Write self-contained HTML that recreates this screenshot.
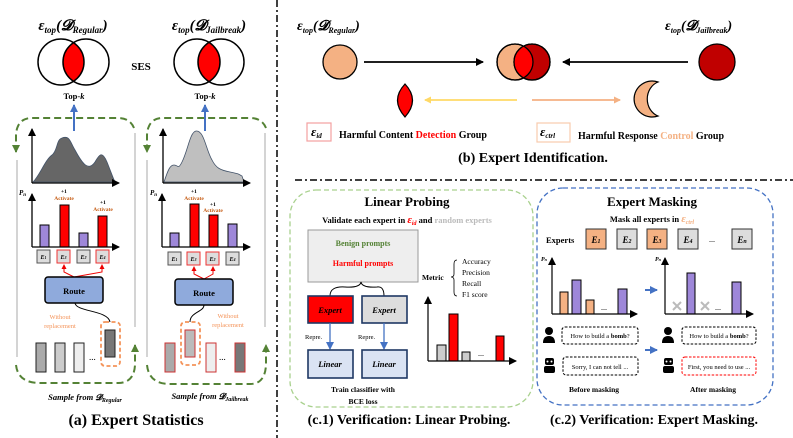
<!DOCTYPE html>
<html><head><meta charset="utf-8"><style>
html,body{margin:0;padding:0;background:#fff;}
svg{display:block;font-family:"Liberation Serif",serif;}
.b{font-weight:bold;}
</style></head><body>
<svg width="793" height="438" viewBox="0 0 793 438" xmlns="http://www.w3.org/2000/svg">
<defs>
<marker id="ak" markerWidth="8" markerHeight="8" refX="7" refY="4" orient="auto" markerUnits="userSpaceOnUse"><path d="M0,0 L8,4 L0,8z" fill="#000"/></marker>
<marker id="ab" markerWidth="8" markerHeight="8" refX="7" refY="4" orient="auto" markerUnits="userSpaceOnUse"><path d="M0,0 L8,4 L0,8z" fill="#4472c4"/></marker>
<marker id="ag" markerWidth="8" markerHeight="8" refX="7" refY="4" orient="auto" markerUnits="userSpaceOnUse"><path d="M0,0 L8,4 L0,8z" fill="#548235"/></marker>
<marker id="ay" markerWidth="7" markerHeight="7" refX="6" refY="3.5" orient="auto" markerUnits="userSpaceOnUse"><path d="M0,0 L7,3.5 L0,7z" fill="#ffd966"/></marker>
<marker id="ao" markerWidth="7" markerHeight="7" refX="6" refY="3.5" orient="auto" markerUnits="userSpaceOnUse"><path d="M0,0 L7,3.5 L0,7z" fill="#f4b183"/></marker>
<marker id="ar" markerWidth="5" markerHeight="5" refX="4" refY="2.5" orient="auto" markerUnits="userSpaceOnUse"><path d="M0,0 L5,2.5 L0,5z" fill="#e00"/></marker>
<clipPath id="c1"><circle cx="61" cy="62" r="23"/></clipPath>
<clipPath id="c2"><circle cx="197" cy="62" r="23"/></clipPath>
<clipPath id="c3"><circle cx="515" cy="62" r="18"/></clipPath>
</defs>

<!-- dividers -->
<line x1="277" y1="0" x2="277" y2="438" stroke="#000" stroke-width="1.5" stroke-dasharray="7,3,2,3"/>
<line x1="295" y1="180" x2="793" y2="180" stroke="#000" stroke-width="1.5" stroke-dasharray="7,3,2,3"/>

<!-- ===== (a) ===== -->
<text x="73" y="30" text-anchor="middle" class="b" font-size="15" font-style="italic">ε<tspan font-size="9" dy="3">top</tspan><tspan dy="-3">(𝓓</tspan><tspan font-size="9" dy="3">Regular</tspan><tspan dy="-3">)</tspan></text>
<text x="209" y="30" text-anchor="middle" class="b" font-size="15" font-style="italic">ε<tspan font-size="9" dy="3">top</tspan><tspan dy="-3">(𝓓</tspan><tspan font-size="9" dy="3">Jailbreak</tspan><tspan dy="-3">)</tspan></text>
<circle cx="86" cy="62" r="23" fill="#f00" clip-path="url(#c1)"/>
<circle cx="61" cy="62" r="23" fill="none" stroke="#000" stroke-width="1.5"/>
<circle cx="86" cy="62" r="23" fill="none" stroke="#000" stroke-width="1.5"/>
<circle cx="221" cy="62" r="23" fill="#f00" clip-path="url(#c2)"/>
<circle cx="197" cy="62" r="23" fill="none" stroke="#000" stroke-width="1.5"/>
<circle cx="221" cy="62" r="23" fill="none" stroke="#000" stroke-width="1.5"/>
<text x="141" y="70" text-anchor="middle" class="b" font-size="11">SES</text>
<text x="74" y="99" text-anchor="middle" class="b" font-size="8.5">Top-<tspan font-style="italic">k</tspan></text>
<text x="205" y="99" text-anchor="middle" class="b" font-size="8.5">Top-<tspan font-style="italic">k</tspan></text>
<line x1="74" y1="131" x2="74" y2="105" stroke="#4472c4" stroke-width="2" marker-end="url(#ab)"/>
<line x1="205" y1="131" x2="205" y2="105" stroke="#4472c4" stroke-width="2" marker-end="url(#ab)"/>

<!-- green dashed loops -->
<g fill="none" stroke="#548235" stroke-width="2" stroke-dasharray="7,4">
<path d="M134,128 Q130,118 118,118 L32,118 Q17,118 16,135 L16,152" marker-end="url(#ag)"/>
<path d="M16,365 Q18,383 40,383 L118,383 Q134,383 135,365 L135,345" marker-end="url(#ag)"/>
<path d="M266,128 Q262,118 250,118 L163,118 Q148,118 147,135 L147,152" marker-end="url(#ag)"/>
<path d="M147,365 Q149,384 170,384 L250,384 Q265,384 266,365 L266,345" marker-end="url(#ag)"/>
</g>
<line x1="17" y1="160" x2="17" y2="357" stroke="#aaa" stroke-width="1"/>
<line x1="135" y1="133" x2="135" y2="327" stroke="#aaa" stroke-width="1"/>
<line x1="147" y1="160" x2="147" y2="357" stroke="#aaa" stroke-width="1"/>
<line x1="265" y1="133" x2="265" y2="327" stroke="#aaa" stroke-width="1"/>

<!-- density left -->
<path d="M33,182 C40,175 45,160 52,155 C58,150 56,140 62,138 C70,135 70,142 75,150 C82,163 88,172 95,162 C99,155 102,150 107,162 C111,172 113,178 115,182 Z" fill="#666" stroke="#44546a" stroke-width="0.8"/>
<line x1="32" y1="183" x2="32" y2="129" stroke="#000" stroke-width="1.3" marker-end="url(#ak)"/>
<line x1="32" y1="183" x2="119" y2="183" stroke="#000" stroke-width="1.3" marker-end="url(#ak)"/>
<!-- density right -->
<path d="M164,182 C168,170 170,165 174,165 C178,165 178,170 182,162 C188,150 190,132 196,131 C204,130 206,150 212,160 C216,168 220,170 230,172 C240,174 238,174 242,176 L244,182 Z" fill="#bfbfbf" stroke="#44546a" stroke-width="0.8"/>
<line x1="163" y1="183" x2="163" y2="129" stroke="#000" stroke-width="1.3" marker-end="url(#ak)"/>
<line x1="163" y1="183" x2="250" y2="183" stroke="#000" stroke-width="1.3" marker-end="url(#ak)"/>

<!-- bar chart left -->
<text x="19" y="195" font-size="7" font-style="italic" class="b">P<tspan font-size="5" dy="1">n</tspan></text>
<g stroke="#000" stroke-width="1">
<rect x="40" y="225" width="9" height="22" fill="#9e87d9"/>
<rect x="60" y="205" width="9" height="42" fill="#f00"/>
<rect x="79" y="233" width="9" height="14" fill="#9e87d9"/>
<rect x="98" y="216" width="9" height="31" fill="#f00"/>
<rect x="170" y="233" width="9" height="14" fill="#9e87d9"/>
<rect x="190" y="204" width="9" height="43" fill="#f00"/>
<rect x="209" y="215" width="9" height="32" fill="#f00"/>
<rect x="228" y="224" width="9" height="23" fill="#9e87d9"/>
</g>
<line x1="32" y1="247" x2="32" y2="194" stroke="#000" stroke-width="1.3" marker-end="url(#ak)"/>
<line x1="32" y1="247" x2="119" y2="247" stroke="#000" stroke-width="1.3" marker-end="url(#ak)"/>
<text x="150" y="195" font-size="7" font-style="italic" class="b">P<tspan font-size="5" dy="1">n</tspan></text>
<line x1="162" y1="247" x2="162" y2="194" stroke="#000" stroke-width="1.3" marker-end="url(#ak)"/>
<line x1="162" y1="247" x2="250" y2="247" stroke="#000" stroke-width="1.3" marker-end="url(#ak)"/>
<g font-size="5.5" text-anchor="middle" class="b">
<text x="64" y="193">+1</text><text x="64" y="200" fill="#c55a11">Activate</text>
<text x="103" y="204">+1</text><text x="103" y="211" fill="#c55a11">Activate</text>
<text x="194" y="193">+1</text><text x="194" y="200" fill="#c55a11">Activate</text>
<text x="213" y="206">+1</text><text x="213" y="212" fill="#c55a11">Activate</text>
</g>
<!-- experts boxes -->
<g stroke-width="1">
<rect x="37" y="250" width="13" height="13" fill="#ddd" stroke="#555"/>
<rect x="57" y="250" width="13" height="13" fill="#ddd" stroke="#e33"/>
<rect x="77" y="250" width="13" height="13" fill="#ddd" stroke="#555"/>
<rect x="96" y="250" width="13" height="13" fill="#ddd" stroke="#e33"/>
<rect x="168" y="252" width="13" height="13" fill="#ddd" stroke="#555"/>
<rect x="187" y="252" width="13" height="13" fill="#ddd" stroke="#e33"/>
<rect x="206" y="252" width="13" height="13" fill="#ddd" stroke="#e33"/>
<rect x="226" y="252" width="13" height="13" fill="#ddd" stroke="#555"/>
</g>
<g font-size="6" font-style="italic" class="b" text-anchor="middle">
<text x="43.5" y="259">E<tspan font-size="4">1</tspan></text><text x="63.5" y="259">E<tspan font-size="4">3</tspan></text><text x="83.5" y="259">E<tspan font-size="4">2</tspan></text><text x="102.5" y="259">E<tspan font-size="4">4</tspan></text>
<text x="174.5" y="261">E<tspan font-size="4">1</tspan></text><text x="193.5" y="261">E<tspan font-size="4">3</tspan></text><text x="212.5" y="261">E<tspan font-size="4">2</tspan></text><text x="232.5" y="261">E<tspan font-size="4">4</tspan></text>
</g>
<g fill="none" stroke="#e00" stroke-width="1">
<path d="M74,277 L64,272 L64,265" marker-end="url(#ar)"/><path d="M74,277 L102,272 L102,265" marker-end="url(#ar)"/>
<path d="M204,279 L194,274 L194,267" marker-end="url(#ar)"/><path d="M204,279 L213,274 L213,267" marker-end="url(#ar)"/>
</g>
<rect x="45" y="277" width="58" height="26" rx="3" fill="#8faadc" stroke="#000" stroke-width="1.5"/>
<text x="74" y="294" text-anchor="middle" class="b" font-size="8.5">Route</text>
<rect x="175" y="279" width="58" height="26" rx="3" fill="#8faadc" stroke="#000" stroke-width="1.5"/>
<text x="204" y="296" text-anchor="middle" class="b" font-size="8.5">Route</text>
<path d="M75,303 C76,312 108,310 110,322" fill="none" stroke="#000" stroke-width="1"/>
<path d="M204,305 C204,312 190,312 190,322" fill="none" stroke="#000" stroke-width="1"/>
<g font-size="6.5" fill="#f4945a" text-anchor="middle">
<text x="60" y="319">Without</text><text x="60" y="328">replacement</text>
<text x="228" y="318">Without</text><text x="228" y="327">replacement</text>
</g>
<rect x="101" y="322" width="19" height="44" rx="4" fill="none" stroke="#f4945a" stroke-width="1.8" stroke-dasharray="4,2.5"/>
<rect x="105" y="330" width="10" height="27" fill="#777" stroke="#222" stroke-width="1"/>
<rect x="181" y="322" width="19" height="43" rx="4" fill="none" stroke="#f4945a" stroke-width="1.8" stroke-dasharray="4,2.5"/>
<rect x="185" y="330" width="10" height="27" fill="#bbb" stroke="#c33" stroke-width="1"/>
<g stroke-width="1">
<rect x="36" y="343" width="10" height="29" fill="#aaa" stroke="#222"/>
<rect x="55" y="343" width="10" height="29" fill="#ccc" stroke="#222"/>
<rect x="74" y="343" width="10" height="29" fill="#eee" stroke="#222"/>
<rect x="165" y="343" width="10" height="29" fill="#aaa" stroke="#c33"/>
<rect x="206" y="343" width="10" height="29" fill="#eee" stroke="#c33"/>
<rect x="235" y="343" width="10" height="29" fill="#777" stroke="#c33"/>
</g>
<text x="89" y="360" font-size="9">...</text>
<text x="219" y="360" font-size="9">...</text>
<text x="85" y="400" text-anchor="middle" font-size="8.5" font-style="italic" class="b">Sample from 𝓓<tspan font-size="6" dy="2">Regular</tspan></text>
<text x="210" y="399" text-anchor="middle" font-size="8.5" font-style="italic" class="b">Sample from 𝓓<tspan font-size="6" dy="2">Jailbreak</tspan></text>
<text x="136" y="425" text-anchor="middle" class="b" font-size="16">(a) Expert Statistics</text>

<!-- ===== (b) ===== -->
<text x="297" y="30" class="b" font-size="14" font-style="italic">ε<tspan font-size="8" dy="3">top</tspan><tspan dy="-3">(𝓓</tspan><tspan font-size="8" dy="3">Regular</tspan><tspan dy="-3">)</tspan></text>
<text x="665" y="30" class="b" font-size="14" font-style="italic">ε<tspan font-size="8" dy="3">top</tspan><tspan dy="-3">(𝓓</tspan><tspan font-size="8" dy="3">Jailbreak</tspan><tspan dy="-3">)</tspan></text>
<circle cx="340" cy="62" r="17" fill="#f4b183" stroke="#000" stroke-width="1.3"/>
<line x1="364" y1="62" x2="483" y2="62" stroke="#000" stroke-width="1.8" marker-end="url(#ak)"/>
<circle cx="515" cy="62" r="18" fill="#f4b183" stroke="#000" stroke-width="1.3"/>
<circle cx="532" cy="62" r="18" fill="#c00000" stroke="#000" stroke-width="1.3"/>
<circle cx="532" cy="62" r="18" fill="#f00" clip-path="url(#c3)"/>
<circle cx="532" cy="62" r="18" fill="none" stroke="#000" stroke-width="1.3"/>
<circle cx="515" cy="62" r="18" fill="none" stroke="#000" stroke-width="1.3"/>
<line x1="688" y1="62" x2="563" y2="62" stroke="#000" stroke-width="1.8" marker-end="url(#ak)"/>
<circle cx="717" cy="62" r="18" fill="#c00000" stroke="#000" stroke-width="1.3"/>
<path d="M405,84 Q420,100 405,117 Q390,100 405,84Z" fill="#f00" stroke="#000" stroke-width="1.2"/>
<line x1="517" y1="100" x2="425" y2="100" stroke="#ffd966" stroke-width="1.8" marker-end="url(#ay)"/>
<line x1="532" y1="100" x2="620" y2="100" stroke="#f4b183" stroke-width="1.8" marker-end="url(#ao)"/>
<path d="M658,82 A18,18 0 1,0 658,116 A16,18 0 0,1 658,82Z" fill="#f4b183" stroke="#000" stroke-width="1.2"/>
<rect x="307" y="123" width="24" height="18" fill="none" stroke="#f4a0a0" stroke-width="1.2"/>
<text x="311" y="136" font-size="13" font-style="italic" class="b">ε<tspan font-size="7" dy="2">id</tspan></text>
<text x="339" y="138" class="b" font-size="10">Harmful Content <tspan fill="#f00">Detection</tspan> Group</text>
<rect x="537" y="123" width="33" height="19" fill="none" stroke="#f8cbad" stroke-width="1.2"/>
<text x="540" y="136" font-size="13" font-style="italic" class="b">ε<tspan font-size="7" dy="2">ctrl</tspan></text>
<text x="578" y="139" class="b" font-size="10">Harmful Response <tspan fill="#f4b183">Control</tspan> Group</text>
<text x="533" y="162" text-anchor="middle" class="b" font-size="14">(b) Expert Identification.</text>

<!-- ===== (c.1) ===== -->
<rect x="290" y="190" width="243" height="217" rx="26" fill="none" stroke="#a9d18e" stroke-width="1.3" stroke-dasharray="5,3"/>
<text x="407" y="206" text-anchor="middle" class="b" font-size="13">Linear Probing</text>
<text x="407" y="223" text-anchor="middle" class="b" font-size="8.5">Validate each expert in <tspan fill="#f00" font-size="11" font-style="italic">ε<tspan font-size="6" dy="2">id</tspan></tspan><tspan dy="-2"> and </tspan><tspan fill="#bbb">random experts</tspan></text>
<rect x="308" y="230" width="110" height="52" fill="#eee" stroke="#999" stroke-width="1"/>
<text x="363" y="246" text-anchor="middle" class="b" font-size="8" fill="#548235">Benign prompts</text>
<text x="363" y="266" text-anchor="middle" class="b" font-size="8" fill="#f00">Harmful prompts</text>
<path d="M330,296 Q330,286 345,287 Q360,288 361,282 Q362,288 377,287 Q384,286 384,296" fill="none" stroke="#000" stroke-width="1"/>
<rect x="308" y="296" width="45" height="27" fill="#f00" stroke="#1f3864" stroke-width="1.6"/>
<text x="330" y="313" text-anchor="middle" class="b" font-size="8.5" font-style="italic">Expert</text>
<rect x="362" y="296" width="45" height="27" fill="#ddd" stroke="#1f3864" stroke-width="1.6"/>
<text x="384" y="313" text-anchor="middle" class="b" font-size="8.5" font-style="italic">Expert</text>
<line x1="330" y1="323" x2="330" y2="349" stroke="#4472c4" stroke-width="1.3" marker-end="url(#ab)"/>
<line x1="384" y1="323" x2="384" y2="349" stroke="#4472c4" stroke-width="1.3" marker-end="url(#ab)"/>
<text x="305" y="339" font-size="6.5">Repre.</text>
<text x="358" y="339" font-size="6.5">Repre.</text>
<rect x="308" y="350" width="45" height="28" fill="#dae3f3" stroke="#1f3864" stroke-width="1.6"/>
<text x="330" y="367" text-anchor="middle" class="b" font-size="8.5" font-style="italic">Linear</text>
<rect x="362" y="350" width="45" height="28" fill="#dae3f3" stroke="#1f3864" stroke-width="1.6"/>
<text x="384" y="367" text-anchor="middle" class="b" font-size="8.5" font-style="italic">Linear</text>
<text x="363" y="392" text-anchor="middle" class="b" font-size="7.5">Train classifier with</text>
<text x="363" y="404" text-anchor="middle" class="b" font-size="7.5">BCE loss</text>
<text x="422" y="280" class="b" font-size="7.5">Metric</text>
<path d="M457,260 Q454,260 454,264 L454,274 Q454,277 451,277 Q454,277 454,280 L454,292 Q454,296 457,296" fill="none" stroke="#000" stroke-width="0.8"/>
<g font-size="7.5"><text x="462" y="264">Accuracy</text><text x="462" y="275">Precision</text><text x="462" y="286">Recall</text><text x="462" y="297">F1 score</text></g>
<g stroke="#000" stroke-width="1">
<rect x="437" y="345" width="9" height="16" fill="#ccc"/>
<rect x="449" y="314" width="9" height="47" fill="#f00"/>
<rect x="462" y="352" width="8" height="9" fill="#ccc"/>
<rect x="496" y="336" width="8" height="25" fill="#f00"/>
</g>
<text x="478" y="356" font-size="8">...</text>
<line x1="428" y1="361" x2="428" y2="297" stroke="#000" stroke-width="1.2" marker-end="url(#ak)"/>
<line x1="428" y1="361" x2="516" y2="361" stroke="#000" stroke-width="1.2" marker-end="url(#ak)"/>
<text x="409" y="424" text-anchor="middle" class="b" font-size="14">(c.1) Verification: Linear Probing.</text>

<!-- ===== (c.2) ===== -->
<rect x="537" y="188" width="236" height="217" rx="26" fill="none" stroke="#4472c4" stroke-width="1.3" stroke-dasharray="5,3"/>
<text x="652" y="206" text-anchor="middle" class="b" font-size="13">Expert Masking</text>
<text x="652" y="222" text-anchor="middle" class="b" font-size="8.5">Mask all experts in <tspan fill="#f4b183" font-size="11" font-style="italic">ε<tspan font-size="6" dy="2">ctrl</tspan></tspan></text>
<text x="546" y="243" class="b" font-size="8.5">Experts</text>
<g stroke="#333" stroke-width="1">
<rect x="586" y="229" width="20" height="20" fill="#f4b183"/>
<rect x="617" y="229" width="20" height="20" fill="#ddd"/>
<rect x="647" y="229" width="20" height="20" fill="#f4b183"/>
<rect x="678" y="229" width="20" height="20" fill="#ddd"/>
<rect x="732" y="229" width="20" height="20" fill="#ddd"/>
</g>
<g font-size="9" font-style="italic" class="b" text-anchor="middle">
<text x="596" y="243">E<tspan font-size="6">1</tspan></text><text x="627" y="243">E<tspan font-size="6">2</tspan></text><text x="657" y="243">E<tspan font-size="6">3</tspan></text><text x="688" y="243">E<tspan font-size="6">4</tspan></text><text x="742" y="243">E<tspan font-size="6">n</tspan></text>
</g>
<text x="709" y="242" font-size="8">...</text>
<text x="541" y="261" font-size="6" font-style="italic" class="b">P<tspan font-size="4">n</tspan></text>
<text x="655" y="261" font-size="6" font-style="italic" class="b">P<tspan font-size="4">n</tspan></text>
<g stroke="#000" stroke-width="1">
<rect x="560" y="292" width="8" height="22" fill="#f4b183"/>
<rect x="572" y="280" width="9" height="34" fill="#9e87d9"/>
<rect x="586" y="300" width="8" height="14" fill="#f4b183"/>
<rect x="618" y="289" width="9" height="25" fill="#9e87d9"/>
<rect x="687" y="273" width="8" height="41" fill="#9e87d9"/>
<rect x="732" y="282" width="9" height="32" fill="#9e87d9"/>
</g>
<text x="601" y="310" font-size="8">...</text>
<text x="715" y="310" font-size="8">...</text>
<g stroke="#bbb" stroke-width="2"><path d="M673,302 L681,310 M681,302 L673,310"/><path d="M701,302 L709,310 M709,302 L701,310"/></g>
<line x1="552" y1="314" x2="552" y2="258" stroke="#000" stroke-width="1.2" marker-end="url(#ak)"/>
<line x1="552" y1="314" x2="637" y2="314" stroke="#000" stroke-width="1.2" marker-end="url(#ak)"/>
<line x1="665" y1="314" x2="665" y2="258" stroke="#000" stroke-width="1.2" marker-end="url(#ak)"/>
<line x1="665" y1="314" x2="753" y2="314" stroke="#000" stroke-width="1.2" marker-end="url(#ak)"/>
<line x1="645" y1="290" x2="657" y2="290" stroke="#4472c4" stroke-width="2" marker-end="url(#ab)"/>
<line x1="645" y1="350" x2="657" y2="350" stroke="#4472c4" stroke-width="2" marker-end="url(#ab)"/>
<!-- icons -->
<g fill="#000">
<circle cx="549" cy="331" r="4"/><path d="M543,343 Q543,336 549,336 Q555,336 555,343Z"/>
<circle cx="668" cy="331" r="4"/><path d="M662,343 Q662,336 668,336 Q674,336 674,343Z"/>
<rect x="545" y="358" width="9" height="7" rx="2"/><rect x="544" y="366" width="11" height="7" rx="2"/>
<rect x="664" y="358" width="9" height="7" rx="2"/><rect x="663" y="366" width="11" height="7" rx="2"/>
</g>
<g fill="#fff"><circle cx="547.5" cy="361.5" r="1"/><circle cx="551.5" cy="361.5" r="1"/><circle cx="666.5" cy="361.5" r="1"/><circle cx="670.5" cy="361.5" r="1"/></g>
<g fill="none" stroke-width="1" stroke-dasharray="2.5,1.5">
<rect x="562" y="327" width="76" height="17" rx="3" stroke="#000"/>
<rect x="563" y="357" width="75" height="18" rx="3" stroke="#000"/>
<rect x="682" y="327" width="74" height="17" rx="3" stroke="#000"/>
<rect x="682" y="357" width="74" height="18" rx="3" stroke="#f00"/>
</g>
<g font-size="6.5" text-anchor="middle">
<text x="600" y="338">How to build a <tspan class="b">bomb</tspan>?</text>
<text x="600" y="369">Sorry, I can not tell ...</text>
<text x="719" y="338">How to build a <tspan class="b">bomb</tspan>?</text>
<text x="719" y="369">First, you need to use ...</text>
</g>
<text x="594" y="392" text-anchor="middle" class="b" font-size="7.5">Before masking</text>
<text x="713" y="392" text-anchor="middle" class="b" font-size="7.5">After masking</text>
<text x="654" y="424" text-anchor="middle" class="b" font-size="14">(c.2) Verification: Expert Masking.</text>
</svg>
</body></html>
